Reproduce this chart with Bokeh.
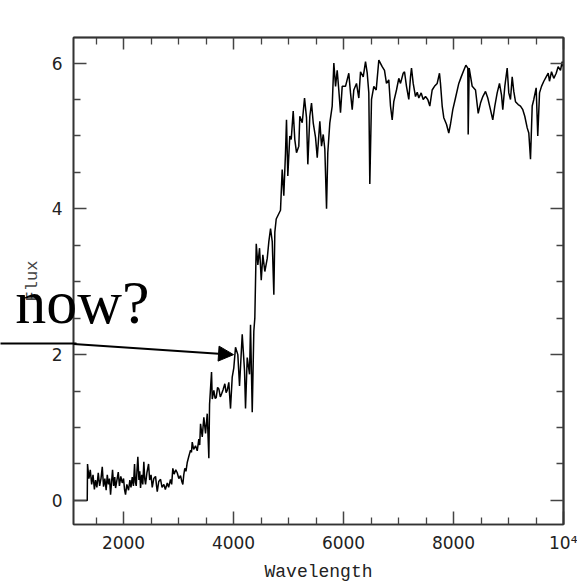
from bokeh.plotting import figure
from bokeh.models import Range1d, FixedTicker, LinearAxis, Arrow, NormalHead
from bokeh.embed import file_html
from bokeh.resources import INLINE

# ---- data (wavelength in Angstrom, flux) ----
w1 = [1090,1340,1345,1370,1395,1420,1445,1470,1491,1515,1540,1565,1590,1613,1636,1660,1684,1704,1725,1745,
      1764,1782,1800,1820,1840,1855,1880,1904,1925,1950,1976,2000,2018,2036,2060,2091,2115,2135,2158,2180,
      2200,2215,2231,2245,2260,2280,2295,2309,2330,2350,2369,2385,2400,2425,2455,2475,2500,2522,2550,2582,
      2600,2613,2640,2673,2700,2733,2760,2795,2820,2854,2875,2896,2920,2950,2976,3005,3036,3060,3078,3095,
      3114,3135,3158,3185,3218,3235,3249,3275,3309,3340,3369,3385]
f1 = [0,0,0.50,0.30,0.42,0.22,0.35,0.15,0.28,0.18,0.38,0.20,0.30,0.46,0.19,0.30,0.14,0.35,0.22,0.30,
      0.08,0.25,0.42,0.20,0.32,0.17,0.28,0.39,0.20,0.33,0.24,0.30,0.15,0.08,0.22,0.14,0.28,0.18,0.32,0.20,
      0.50,0.25,0.20,0.42,0.60,0.28,0.40,0.17,0.35,0.22,0.53,0.30,0.22,0.38,0.50,0.28,0.35,0.18,0.30,0.33,
      0.20,0.12,0.26,0.29,0.18,0.22,0.15,0.24,0.18,0.29,0.22,0.44,0.36,0.42,0.38,0.30,0.34,0.26,0.22,0.35,
      0.44,0.40,0.52,0.60,0.69,0.66,0.80,0.70,0.75,0.68,0.84,0.76]

w2 = [3400,3431,3460,3491,3522,3551,3564,3600,3613,3642,3665,3685,3710,3733,3760,3782,3810,3842,3865,3885,
      3914,3945,3976,4005,4036,4078,4109,4158,4200,4218,4249,4291,4309,4340,4369,4387,4413,4442,4473,4504,
      4533,4569,4613,4642,4673,4704,4733,4751,4776]
f2 = [1.05,0.87,1.14,0.92,1.19,0.58,1.32,1.76,1.39,1.51,1.40,1.41,1.55,1.53,1.42,1.46,1.52,1.60,1.48,1.51,
      1.62,1.26,1.69,1.82,2.10,2.00,1.57,2.28,1.78,1.26,1.96,1.73,2.41,1.21,2.32,2.50,3.52,3.23,3.46,3.02,
      3.37,3.14,3.32,3.55,3.73,3.55,2.82,3.68,3.86]

w3 = [4854,4885,4914,4945,4963,4987,5023,5049,5085,5114,5145,5187,5205,5249,5291,5327,5351,5387,5418,5449,
      5491,5522,5569,5600,5631,5660,5691,5714,5751,5794,5824,5855,5885,5914,5945,5976,6036,6096,6127,6158,
      6187,6236,6278,6309,6358,6400,6431,6460,6478,6509,6551,6594,6642,6703,6745,6781,6823,6854,6885,6914]
f3 = [3.98,4.54,4.18,4.77,5.22,4.45,5.00,4.95,5.34,4.95,4.77,4.86,5.27,5.18,5.52,5.25,4.61,5.27,5.45,5.18,
      4.98,4.70,5.20,4.86,5.02,4.82,4.00,4.77,5.18,5.41,6.00,5.68,5.90,5.63,5.32,5.68,5.68,5.86,5.59,5.36,
      5.63,5.72,5.52,5.88,5.81,6.02,5.86,5.59,4.34,5.50,5.68,5.63,6.04,5.95,5.90,5.72,5.77,5.41,5.22,5.47]

w4 = [6963,7005,7036,7085,7109,7145,7187,7218,7236,7267,7309,7340,7369,7412,7449,7491,7532,7569,7612,7654,
      7703,7745,7763,7794,7823,7872,7914,7945,7987,8036,8096,8140,8187,8225,8260,8267,8285,8340,8400]
f4 = [5.63,5.79,5.72,5.86,5.88,5.68,5.50,5.81,5.93,5.72,5.54,5.60,5.52,5.59,5.50,5.54,5.50,5.41,5.63,5.68,
      5.72,5.86,5.72,5.41,5.25,5.16,5.04,5.16,5.36,5.52,5.72,5.81,5.90,5.97,5.93,5.02,5.93,5.68,5.63]

w5 = [8449,8491,8533,8582,8623,8672,8714,8751,8794,8836,8873,8896,8933,8976,9005,9036,9067,9096,9127,9176,
      9218,9260,9296,9340,9369,9400,9431,9460,9503,9532,9564,9600,9642,9685,9722,9745,9782,9823,9867,9903,
      9945,9976,9995]
f5 = [5.31,5.45,5.54,5.61,5.52,5.36,5.22,5.41,5.59,5.72,5.56,5.36,5.68,5.93,5.59,5.50,5.81,5.61,5.47,5.43,
      5.41,5.36,5.27,5.11,5.04,4.68,5.41,5.50,5.66,5.00,5.59,5.68,5.75,5.81,5.86,5.75,5.88,5.79,5.86,5.95,
      5.90,6.02,5.95]

wavelength = w1 + w2 + w3 + w4 + w5
flux = f1 + f2 + f3 + f4 + f5

x_major = [2000, 4000, 6000, 8000, 10000]
x_minor = [1500, 2500, 3000, 3500, 4500, 5000, 5500, 6500, 7000, 7500, 8500, 9000, 9500]
y_major = [0, 2, 4, 6]
y_minor = [0.5, 1, 1.5, 2.5, 3, 3.5, 4.5, 5, 5.5]
x_labels = {10000: "10\u2074"}

x_title = "Wavelength"
y_title = "Flux"

# slide annotation: text "now?" and an arrow pointing at the 4000 A break
annotation_text = "now?"
annotation_y = 2.717         # flux level of the text centre
arrow_y_outside = 2.146      # flux level where the arrow leaves the plot frame
arrow_tip = (4000, 2.0)

# ---- figure ----
p = figure(width=577, height=584, output_backend="svg", toolbar_location=None,
           x_range=Range1d(1090, 10000), y_range=Range1d(-0.33, 6.35),
           min_border_left=73, min_border_right=14, min_border_top=37, min_border_bottom=56,
           background_fill_color="white", border_fill_color="white")
p.grid.visible = False
p.outline_line_color = "#333333"
p.outline_line_width = 1.6

p.line(wavelength, flux, line_color="black", line_width=1.5)

def tick_style(ax):
    ax.axis_line_color = "#333333"
    ax.axis_line_width = 1.6
    ax.major_tick_in = 13
    ax.major_tick_out = 0
    ax.minor_tick_in = 7
    ax.minor_tick_out = 0
    ax.major_tick_line_color = "#444444"
    ax.major_tick_line_width = 1.5
    ax.minor_tick_line_color = "#444444"
    ax.minor_tick_line_width = 1.3

def label_style(ax):
    ax.major_label_text_font = "DejaVu Sans"
    ax.major_label_text_font_size = "17px"
    ax.major_label_text_color = "#222222"
    ax.axis_label_text_font = "Liberation Mono"
    ax.axis_label_text_font_style = "normal"
    ax.axis_label_text_color = "#222222"

xa = p.xaxis[0]
xa.ticker = FixedTicker(ticks=x_major, minor_ticks=x_minor)
xa.major_label_overrides = x_labels
tick_style(xa)
label_style(xa)
xa.major_label_standoff = 8
xa.axis_label = x_title
xa.axis_label_text_font_size = "18px"
xa.axis_label_standoff = 6

ya = p.yaxis[0]
ya.ticker = FixedTicker(ticks=y_major, minor_ticks=y_minor)
tick_style(ya)
label_style(ya)
ya.major_label_standoff = 11
ya.axis_label = y_title
ya.axis_label_text_font_size = "17px"
ya.axis_label_text_color = "#444444"
ya.axis_label_standoff = 7

# mirrored ticks on top and right (no labels): one axis for short, one for long ticks
def mirror_axis(minor_positions, length, side):
    ax = LinearAxis(ticker=FixedTicker(ticks=[], minor_ticks=minor_positions))
    tick_style(ax)
    ax.minor_tick_in = length
    ax.minor_tick_line_width = 1.5 if length > 10 else 1.3
    ax.major_label_standoff = 0
    p.add_layout(ax, side)

mirror_axis(x_minor, 7, "above")
mirror_axis(x_major, 12, "above")
mirror_axis(y_minor, 7, "right")
mirror_axis(y_major, 13, "right")

# outer part of the annotation (left of the frame) drawn by a left axis
note_axis = LinearAxis(ticker=FixedTicker(ticks=[annotation_y], minor_ticks=[arrow_y_outside]))
note_axis.major_label_overrides = {annotation_y: annotation_text}
note_axis.axis_line_color = None
note_axis.major_tick_in = 0
note_axis.major_tick_out = 0
note_axis.minor_tick_in = 57
note_axis.minor_tick_out = 19
note_axis.minor_tick_line_color = "black"
note_axis.minor_tick_line_width = 2
note_axis.major_label_text_font = "Liberation Serif"
note_axis.major_label_text_font_size = "62px"
note_axis.major_label_text_color = "black"
note_axis.major_label_standoff = -149
p.add_layout(note_axis, "left")

# inner part of the arrow
p.add_layout(Arrow(end=NormalHead(size=15, fill_color="black", line_color="black"),
                   x_start=1090, y_start=arrow_y_outside, x_end=arrow_tip[0], y_end=arrow_tip[1],
                   line_color="black", line_width=2))

open("out.html", "w").write(file_html(p, INLINE))
